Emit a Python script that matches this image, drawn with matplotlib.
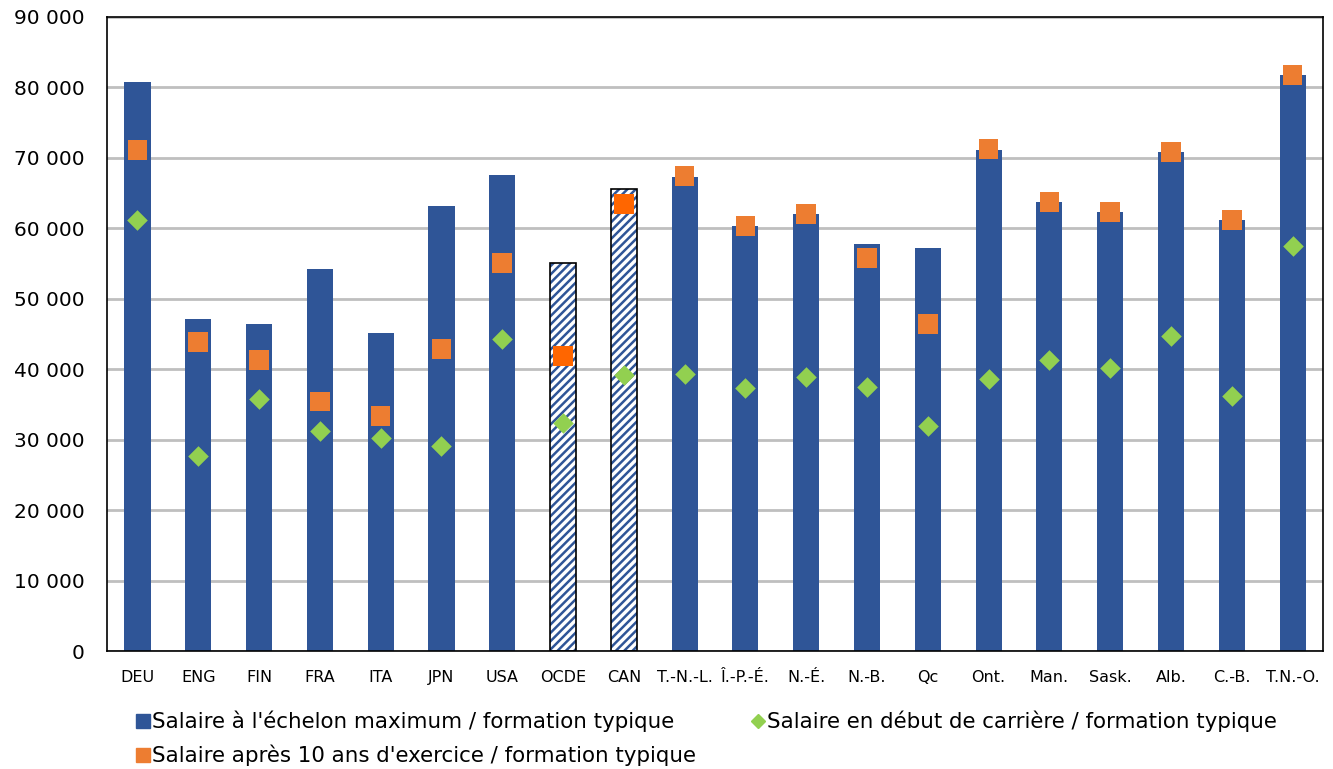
import numpy as np
import matplotlib
matplotlib.use('Agg')
import matplotlib.pyplot as plt
from matplotlib.lines import Line2D
from matplotlib.ticker import FuncFormatter

# data
categories = ['DEU', 'ENG', 'FIN', 'FRA', 'ITA', 'JPN', 'USA', 'OCDE', 'CAN',
              'T.-N.-L.', 'Î.-P.-É.', 'N.-É.', 'N.-B.', 'Qc', 'Ont.', 'Man.',
              'Sask.', 'Alb.', 'C.-B.', 'T.N.-O.']
max_salary = [80800, 47100, 46400, 54200, 45100, 63200, 67600, 55100, 65600,
              67300, 60300, 62000, 57800, 57200, 71100, 63700, 62300, 70800,
              61200, 81800]
salary_10y = [71100, 43900, 41300, 35400, 33400, 42900, 55100, 41900, 63500,
              67400, 60300, 62000, 55800, 46400, 71300, 63700, 62300, 70800,
              61200, 81800]
start_salary = [61200, 27700, 35800, 31200, 30200, 29100, 44300, 32400, 39200,
                39300, 37300, 38900, 37500, 31900, 38600, 41300, 40200, 44700,
                36200, 57500]
highlight = ['OCDE', 'CAN']

blue = '#2F5597'
orange = '#ED7D31'
orange_hl = '#FF6600'
green = '#92D050'

plt.rcParams['font.family'] = ['DejaVu Sans']
plt.rcParams['hatch.linewidth'] = 1.8

fig = plt.figure(figsize=(13.33, 7.69), dpi=100)
ax = fig.add_axes((0.0803, 0.1534, 0.9122, 0.8245))

x = np.arange(len(categories))
is_hl = np.array([c in highlight for c in categories])
width = 0.43

ax.bar(x[~is_hl], np.array(max_salary)[~is_hl], width, color=blue, zorder=2)
ax.bar(x[is_hl], np.array(max_salary)[is_hl], width, facecolor='white',
       edgecolor=blue, hatch='////', linewidth=0, zorder=2)
ax.bar(x[is_hl], np.array(max_salary)[is_hl], width, fill=False,
       edgecolor='black', linewidth=1.2, zorder=3)

sq_colors = [orange_hl if h else orange for h in is_hl]
ax.scatter(x, salary_10y, marker='s', s=200, c=sq_colors, linewidths=0, zorder=4)
ax.scatter(x, start_salary, marker='D', s=110, c=green, linewidths=0, zorder=5)

ax.set_xlim(-0.5, len(categories) - 0.5)
ax.set_ylim(0, 90000)
ax.set_yticks(np.arange(0, 90001, 10000))
ax.yaxis.set_major_formatter(FuncFormatter(lambda v, p: f'{int(v):,}'.replace(',', ' ')))
ax.set_xticks(x)
ax.set_xticklabels(categories, fontsize=11.5)
ax.tick_params(axis='y', labelsize=14.5, length=0, pad=16)
ax.tick_params(axis='x', length=0, pad=14)
ax.grid(axis='y', color='#BFBFBF', linewidth=2, zorder=0)
ax.set_axisbelow(True)
for s in ax.spines.values():
    s.set_color('black')
    s.set_linewidth(1.2)

handles = [
    Line2D([], [], marker='s', linestyle='none', color=blue, markersize=10),
    Line2D([], [], marker='s', linestyle='none', color=orange, markersize=10),
    Line2D([], [], marker='D', linestyle='none', color=green, markersize=7),
]
labels = ["Salaire à l'échelon maximum / formation typique",
          "Salaire après 10 ans d'exercice / formation typique",
          "Salaire en début de carrière / formation typique"]
fig.legend(handles, labels, ncol=2, loc='upper left', bbox_to_anchor=(0.103, 0.076),
           frameon=False, fontsize=15.4, handlelength=0.55, handletextpad=0.15,
           columnspacing=2.6, labelspacing=0.6, borderpad=0, borderaxespad=0)

fig.savefig('out.png', dpi=100)
